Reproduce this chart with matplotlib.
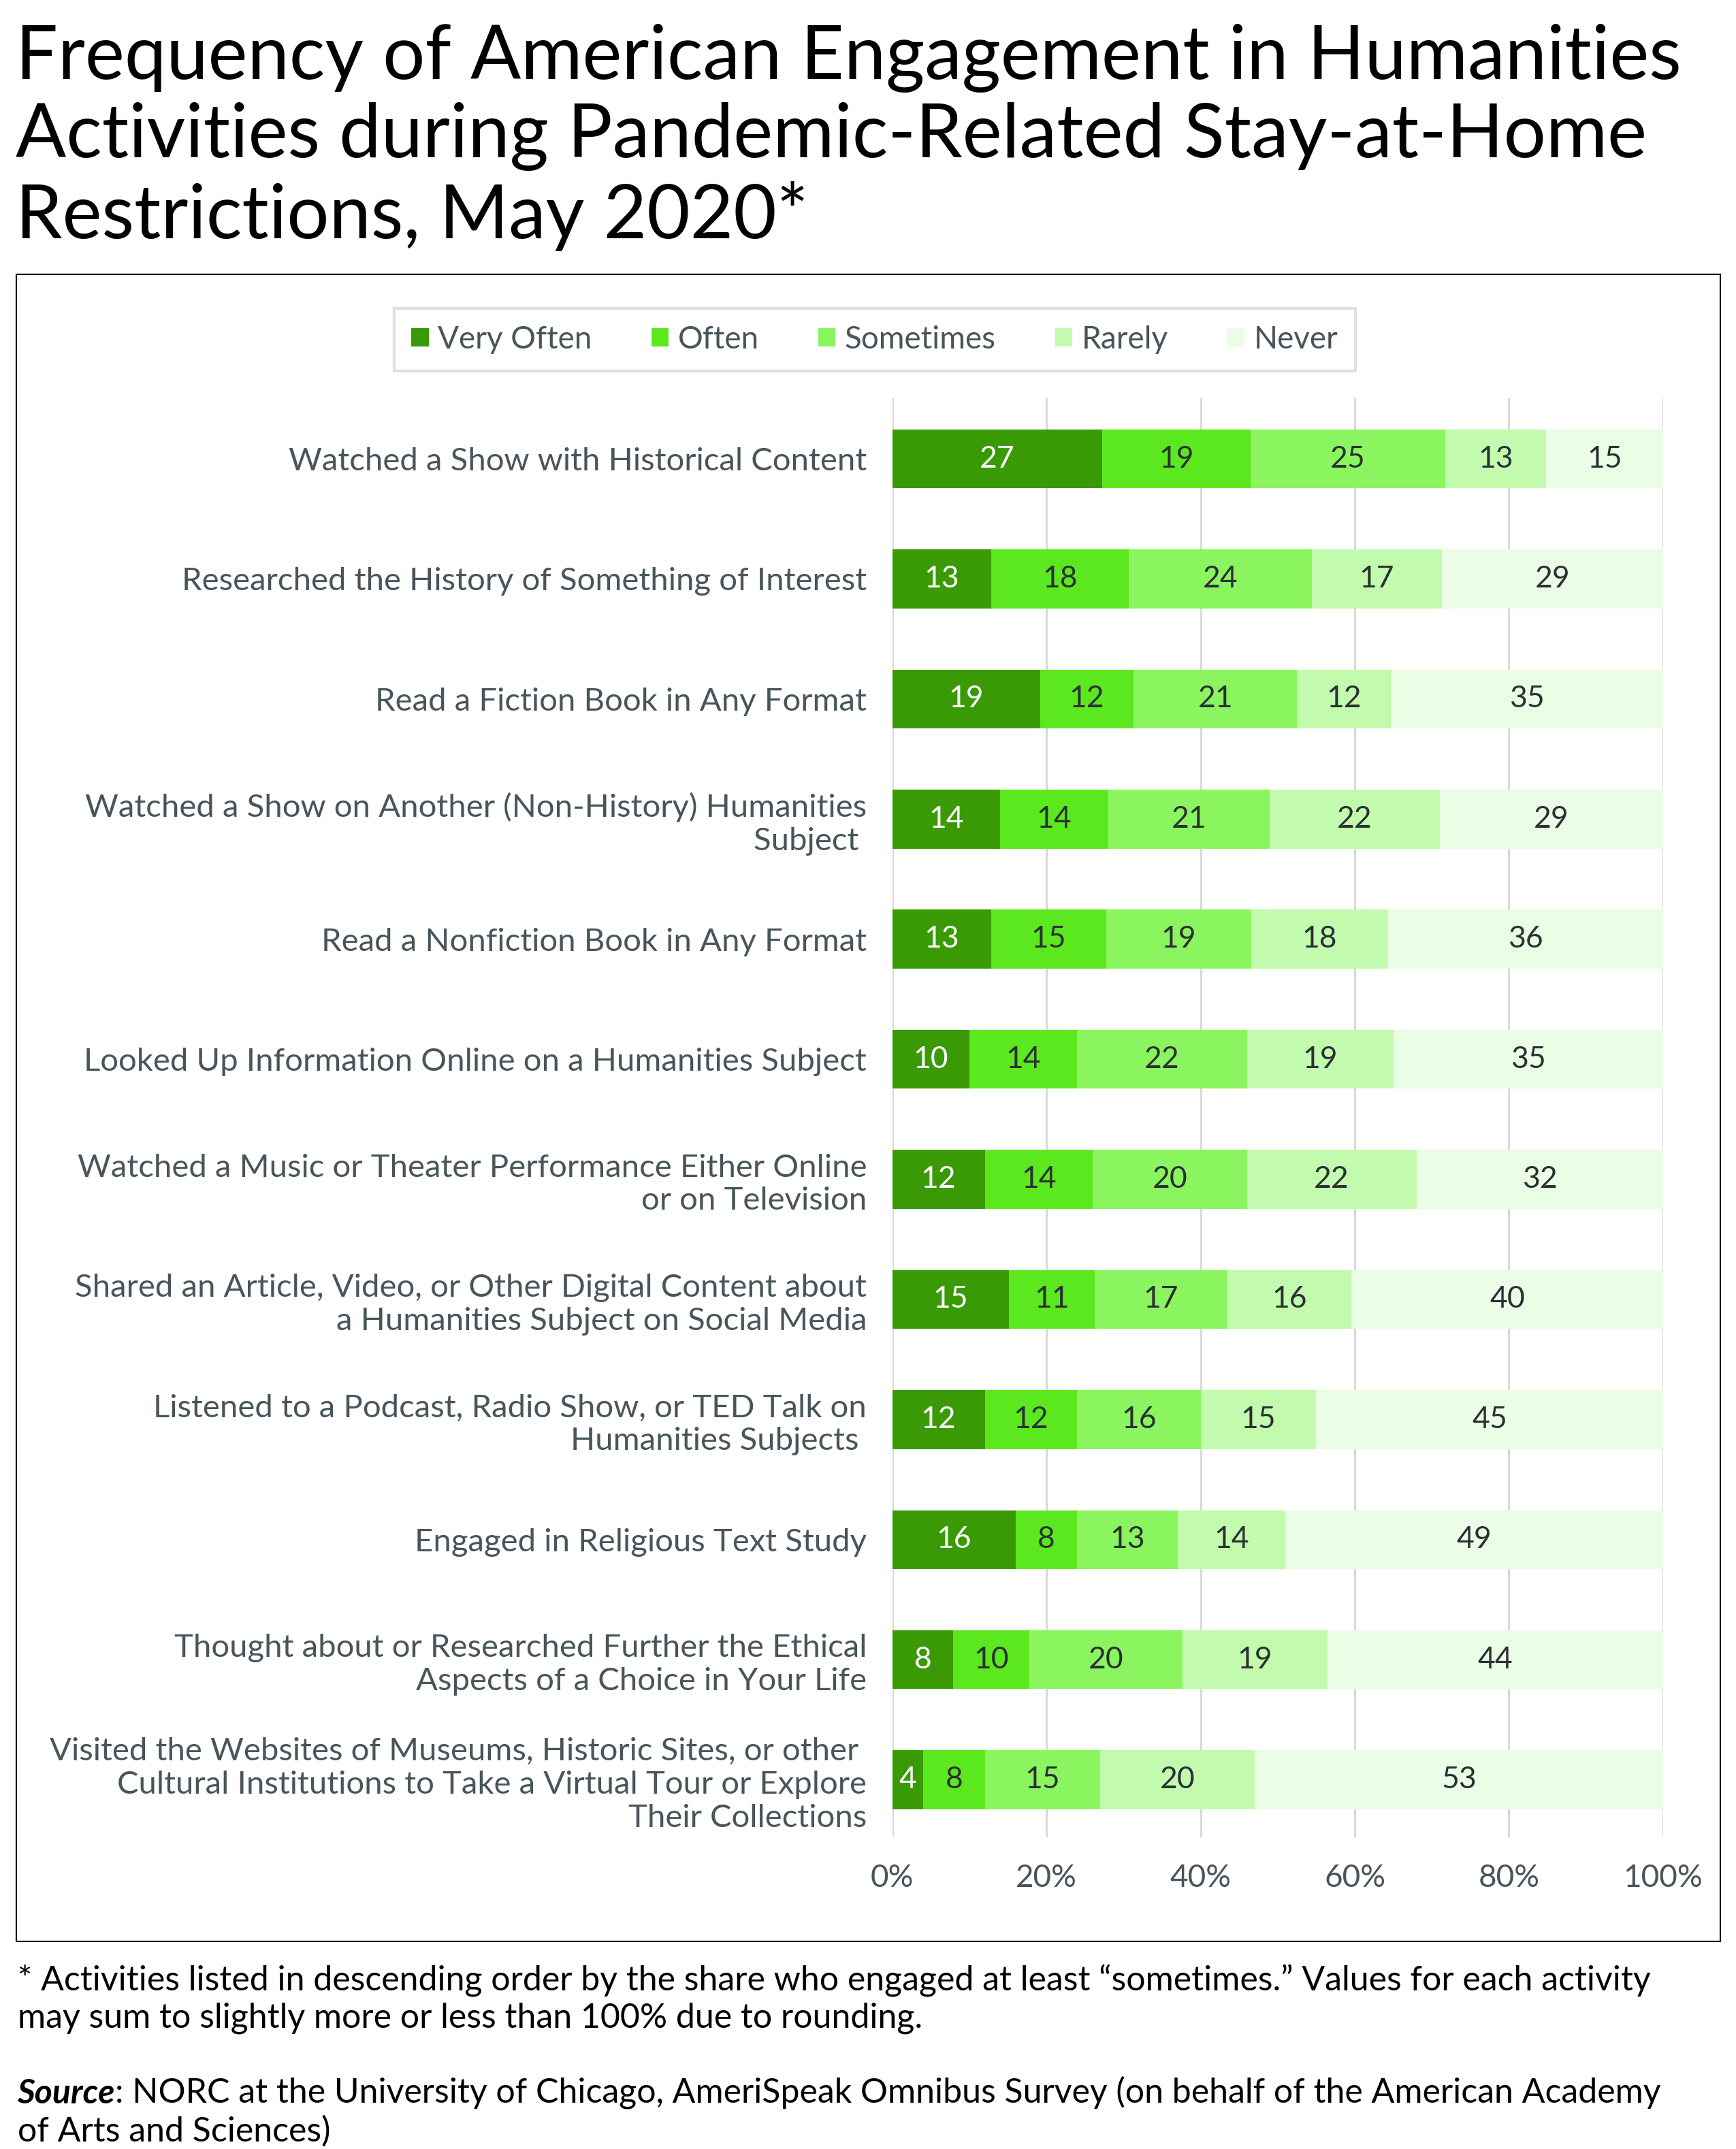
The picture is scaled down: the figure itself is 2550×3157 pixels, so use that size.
import numpy as np
import matplotlib
matplotlib.use('Agg')
import matplotlib.pyplot as plt
from matplotlib.patches import Patch, Rectangle

plt.rcParams['font.family'] = ['Lato', 'DejaVu Sans']

categories = [
    'Watched a Show with Historical Content',
    'Researched the History of Something of Interest',
    'Read a Fiction Book in Any Format',
    'Watched a Show on Another (Non-History) Humanities\nSubject ',
    'Read a Nonfiction Book in Any Format',
    'Looked Up Information Online on a Humanities Subject',
    'Watched a Music or Theater Performance Either Online\nor on Television',
    'Shared an Article, Video, or Other Digital Content about\na Humanities Subject on Social Media',
    'Listened to a Podcast, Radio Show, or TED Talk on\nHumanities Subjects ',
    'Engaged in Religious Text Study',
    'Thought about or Researched Further the Ethical\nAspects of a Choice in Your Life',
    'Visited the Websites of Museums, Historic Sites, or other \nCultural Institutions to Take a Virtual Tour or Explore\nTheir Collections',
]
series = ['Very Often', 'Often', 'Sometimes', 'Rarely', 'Never']
very_often = [27, 13, 19, 14, 13, 10, 12, 15, 12, 16, 8, 4]
often      = [19, 18, 12, 14, 15, 14, 14, 11, 12, 8, 10, 8]
sometimes  = [25, 24, 21, 21, 19, 22, 20, 17, 16, 13, 20, 15]
rarely     = [13, 17, 12, 22, 18, 19, 22, 16, 15, 14, 19, 20]
never      = [15, 29, 35, 29, 36, 35, 32, 40, 45, 49, 44, 53]
xticks = [0, 20, 40, 60, 80, 100]

colors = ['#3a9a05', '#5ce81f', '#8af55e', '#c2fbae', '#eafde5']
txt_colors = ['white', '#2b3033', '#2b3033', '#2b3033', '#2b3033']
gray = '#48555a'

vals = np.array([very_often, often, sometimes, rarely, never], dtype=float)
shares = vals / vals.sum(axis=0) * 100  # 100% stacked

fig = plt.figure(figsize=(25.5, 31.57), dpi=100)
ax = fig.add_axes([0.514, 0.145, 0.444, 0.6697])

y = np.arange(len(categories))
left = np.zeros(len(categories))
for i in range(5):
    ax.barh(y, shares[i], left=left, height=0.49, color=colors[i], zorder=3)
    for j in range(len(categories)):
        ax.text(left[j] + shares[i][j] / 2, y[j], str(int(vals[i][j])),
                ha='center', va='center', fontsize=32, color=txt_colors[i], zorder=4)
    left += shares[i]

ax.set_xlim(0, 100)
ax.set_ylim(11.48, -0.505)
ax.set_xticks(xticks)
ax.set_xticklabels([f'{t}%' for t in xticks])
ax.set_yticks(y)
ax.set_yticklabels(categories)
ax.tick_params(axis='both', length=0, labelsize=34, labelcolor=gray)
ax.tick_params(axis='y', pad=27)
ax.tick_params(axis='x', pad=28, labelsize=33)
ax.grid(axis='x', color='#d9d9d9', linewidth=2.2, zorder=0)
for s in ax.spines.values():
    s.set_visible(False)

handles = [Patch(facecolor=c, label=s) for c, s in zip(colors, series)]
leg = fig.legend(handles=handles, loc='center', bbox_to_anchor=(0.504, 0.842), ncol=5,
                 fontsize=33, frameon=True, fancybox=False, handlelength=0.55, handleheight=0.55,
                 handletextpad=0.3, columnspacing=1.9, borderpad=0.55)
leg.get_frame().set_edgecolor('#d9d9d9')
leg.get_frame().set_linewidth(3)
for t in leg.get_texts():
    t.set_color(gray)

# outer chart box
fig.patches.append(Rectangle((24 / 2550, 1 - 2852 / 3157), 2503 / 2550, 2449 / 3157,
                             transform=fig.transFigure, fill=False, edgecolor='black', linewidth=1.5))

fig.text(0.009, 0.989, 'Frequency of American Engagement in Humanities\nActivities during Pandemic-Related Stay-at-Home\nRestrictions, May 2020*',
         ha='left', va='top', fontsize=79, color='black', linespacing=1.18)

fig.text(0.010, 1 - 2937 / 3157,
         '* Activities listed in descending order by the share who engaged at least \u201csometimes.\u201d Values for each activity\nmay sum to slightly more or less than 100% due to rounding.',
         ha='left', va='center', fontsize=36, color='black', linespacing=1.2)
src = fig.text(0.010, 1 - 3076 / 3157, 'Source', ha='left', va='center', fontsize=36,
               fontweight='bold', fontstyle='italic', color='black')
ax.annotate(': NORC at the University of Chicago, AmeriSpeak Omnibus Survey (on behalf of the American Academy',
            xy=(1, 0), xycoords=src, ha='left', va='bottom', fontsize=36, color='black',
            annotation_clip=False)
fig.text(0.010, 1 - 3131 / 3157, 'of Arts and Sciences)', ha='left', va='center', fontsize=36, color='black')

fig.savefig('out.png', dpi=100)
